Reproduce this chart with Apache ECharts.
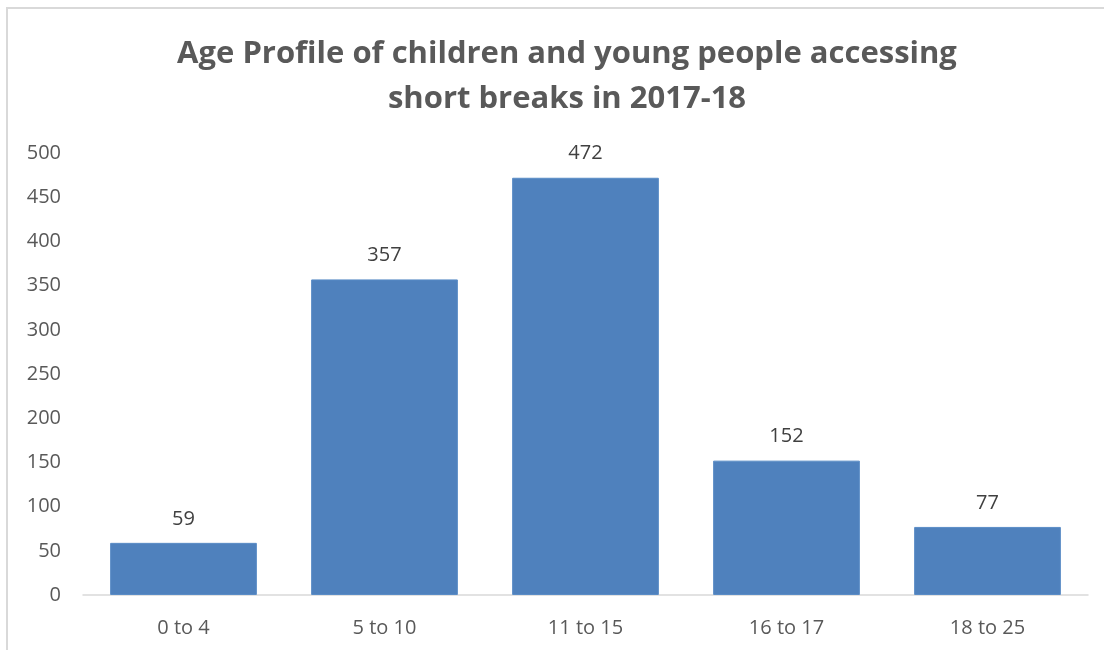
<!DOCTYPE html>
<html>
<head>
<meta charset="utf-8">
<script src="https://cdn.jsdelivr.net/npm/echarts@6/dist/echarts.min.js"></script>
<style>
  html, body { margin: 0; padding: 0; background: #fff; }
  #chart { width: 1104px; height: 650px; }
</style>
</head>
<body>
<div id="chart"></div>
<script>
var categories = ['0 to 4', '5 to 10', '11 to 15', '16 to 17', '18 to 25'];
var counts = [59, 357, 472, 152, 77];
var titleLines = ['Age Profile of children and young people accessing', 'short breaks in 2017-18'];

var chart = echarts.init(document.getElementById('chart'));
var option = {
  animation: false,
  backgroundColor: '#fff',
  textStyle: { fontFamily: 'Open Sans' },
  title: {
    text: titleLines.join('\n'),
    left: 562,
    textAlign: 'center',
    top: 27,
    textStyle: {
      fontFamily: 'Open Sans',
      fontSize: 31,
      fontWeight: 'bold',
      color: '#595959',
      lineHeight: 45
    }
  },
  graphic: [{
    type: 'rect',
    shape: { x: 7, y: 8, width: 1120, height: 670 },
    style: { fill: 'none', stroke: '#d9d9d9', lineWidth: 2 },
    silent: true
  }],
  grid: { left: 83, right: 16, top: 153, bottom: 55 },
  xAxis: {
    type: 'category',
    data: categories,
    axisLine: { lineStyle: { color: '#d9d9d9', width: 1.5 } },
    axisTick: { show: false },
    axisLabel: { color: '#595959', fontSize: 20, margin: 23 }
  },
  yAxis: {
    type: 'value',
    min: 0,
    max: 500,
    interval: 50,
    splitLine: { show: false },
    axisLine: { show: false },
    axisTick: { show: false },
    axisLabel: { color: '#595959', fontSize: 20, margin: 22 }
  },
  series: [{
    type: 'bar',
    data: counts,
    barWidth: '73%',
    itemStyle: { color: '#4f81bd', borderColor: '#5a8cc6', borderWidth: 1 },
    label: {
      show: true,
      position: 'top',
      distance: 14,
      color: '#404040',
      fontSize: 20
    }
  }]
};
chart.setOption(option);
</script>
</body>
</html>
